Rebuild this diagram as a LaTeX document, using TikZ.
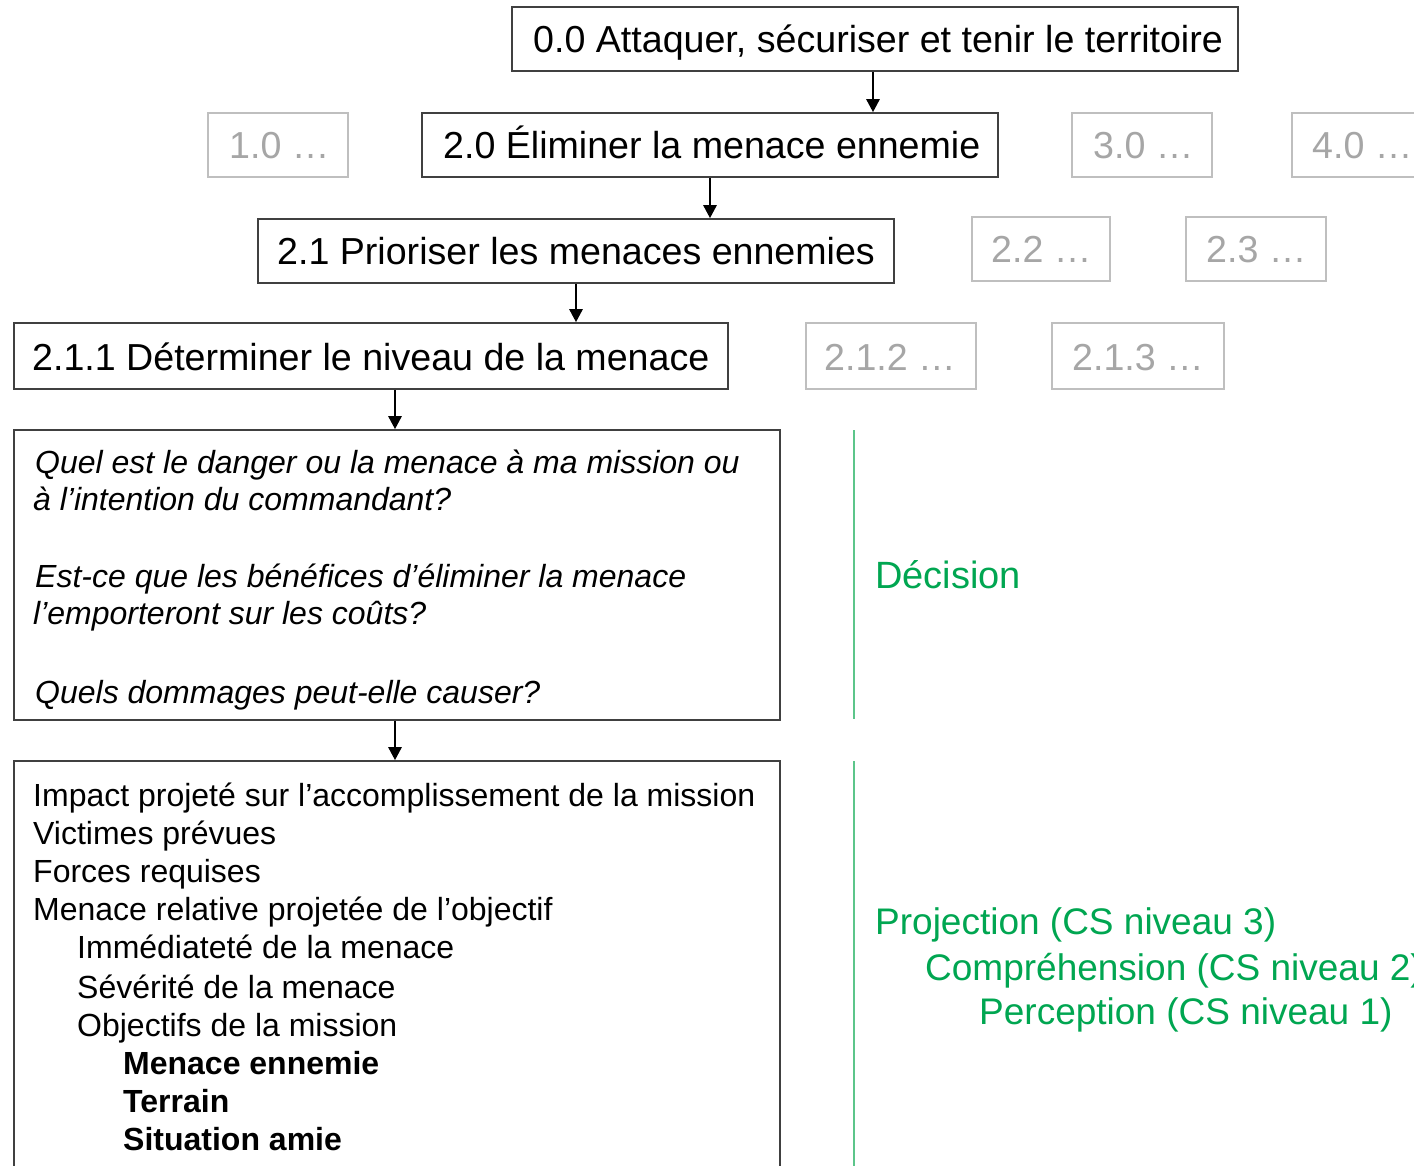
\documentclass[tikz,border=0pt]{standalone}
\usepackage{fontspec}
\setmainfont{Liberation Sans}
\usetikzlibrary{arrows.meta}
\definecolor{boxline}{HTML}{404040}
\definecolor{greyline}{HTML}{BFBFBF}
\definecolor{greytext}{HTML}{A6A6A6}
\definecolor{greentext}{HTML}{00A651}
\definecolor{greenline}{HTML}{5CC58A}
\tikzset{
  box/.style={draw=boxline, line width=1.6pt, fill=none, inner sep=0pt},
  greybox/.style={draw=greyline, line width=1.6pt, inner sep=0pt},
  head/.style={anchor=base west, inner sep=0pt, font=\fontsize{37.6}{44}\selectfont},
  greyhead/.style={head, text=greytext},
  body/.style={anchor=base west, inner sep=0pt, font=\fontsize{32}{38}\selectfont},
  qline/.style={body, font=\fontsize{32}{38}\selectfont\itshape},
  bline/.style={body, font=\fontsize{32}{38}\selectfont\bfseries},
  greenlbl/.style={anchor=base west, inner sep=0pt, text=greentext, font=\fontsize{37}{44}\selectfont},
  conn/.style={line width=2.6pt, -{Triangle[length=13pt,width=13pt]}},
  sep/.style={draw=greenline, line width=1.5pt}
}
\begin{document}
\begin{tikzpicture}[x=1pt,y=-1pt]
\clip (0,0) rectangle (1414,1165);
\fill[white] (0,0) rectangle (1414,1165);
% boxes
\node[box, minimum width=726, minimum height=64] (b00) at (875,39) {};
\node[greybox, minimum width=140, minimum height=64] (b10) at (278,145) {};
\node[box, minimum width=576, minimum height=64] (b20) at (710,145) {};
\node[greybox, minimum width=140, minimum height=64] (b30) at (1142,145) {};
\node[greybox, minimum width=140, minimum height=64] (b40) at (1362,145) {};
\node[box, minimum width=636, minimum height=64] (b21) at (576,251) {};
\node[greybox, minimum width=138, minimum height=64] (b22) at (1041,249) {};
\node[greybox, minimum width=140, minimum height=64] (b23) at (1256,249) {};
\node[box, minimum width=714, minimum height=66] (b211) at (371,356) {};
\node[greybox, minimum width=170, minimum height=66] (b212) at (891,356) {};
\node[greybox, minimum width=172, minimum height=66] (b213) at (1138,356) {};
\node[box, minimum width=766, minimum height=290] (bq) at (397,575) {};
\node[box, minimum width=766, minimum height=420] (bp) at (397,971) {};
% texts
\node[head] (t00) at (533,52) {0.0 Attaquer, sécuriser et tenir le territoire};
\node[greyhead] (t10) at (229,158) {1.0 …};
\node[head] (t20) at (443,158) {2.0 Éliminer la menace ennemie};
\node[greyhead] (t30) at (1093,158) {3.0 …};
\node[greyhead] (t40) at (1312,158) {4.0 …};
\node[head] (t21) at (277,264) {2.1 Prioriser les menaces ennemies};
\node[greyhead] (t22) at (991,262) {2.2 …};
\node[greyhead] (t23) at (1206,262) {2.3 …};
\node[head] (t211) at (32,370) {2.1.1 Déterminer le niveau de la menace};
\node[greyhead] (t212) at (824,370) {2.1.2 …};
\node[greyhead] (t213) at (1072,370) {2.1.3 …};
% questions
\node[qline] (q1) at (35,473) {Quel est le danger ou la menace à ma mission ou};
\node[qline] (q2) at (33,510) {à l’intention du commandant?};
\node[qline] (q3) at (35,587) {Est-ce que les bénéfices d’éliminer la menace};
\node[qline] (q4) at (33,624) {l’emporteront sur les coûts?};
\node[qline] (q5) at (35,703) {Quels dommages peut-elle causer?};
% projection list
\node[body] (p1) at (33,806) {Impact projeté sur l’accomplissement de la mission};
\node[body] (p2) at (33,844) {Victimes prévues};
\node[body] (p3) at (33,882) {Forces requises};
\node[body] (p4) at (33,920) {Menace relative projetée de l’objectif};
\node[body] (p5) at (77,958) {Immédiateté de la menace};
\node[body] (p6) at (77,998) {Sévérité de la menace};
\node[body] (p7) at (77,1036) {Objectifs de la mission};
\node[bline] (p8) at (123,1074) {Menace ennemie};
\node[bline] (p9) at (123,1112) {Terrain};
\node[bline] (p10) at (123,1150) {Situation amie};
% green side
\coordinate (s1a) at (854,430);
\coordinate (s1b) at (854,719);
\coordinate (s2a) at (854,761);
\coordinate (s2b) at (854,1170);
\draw[sep] (s1a) -- (s1b);
\draw[sep] (s2a) -- (s2b);
\node[greenlbl, font=\fontsize{38}{44}\selectfont] (g1) at (875,588) {Décision};
\node[greenlbl] (g2) at (875,934) {Projection (CS niveau 3)};
\node[greenlbl] (g3) at (925,980) {Compréhension (CS niveau 2)};
\node[greenlbl] (g4) at (979,1024) {Perception (CS niveau 1)};
% connectors
\draw[conn] ([xshift=-2pt]b00.south) -- ([xshift=-2pt]b00.south |- b20.north);
\draw[conn] (b20.south) -- (b20.south |- b21.north);
\draw[conn] (b21.south) -- (b21.south |- b211.north);
\draw[conn] ([xshift=-2pt]b211.south -| bq.north) -- ([xshift=-2pt]bq.north);
\draw[conn] ([xshift=-2pt]bq.south) -- ([xshift=-2pt]bp.north);
\end{tikzpicture}
\end{document}
